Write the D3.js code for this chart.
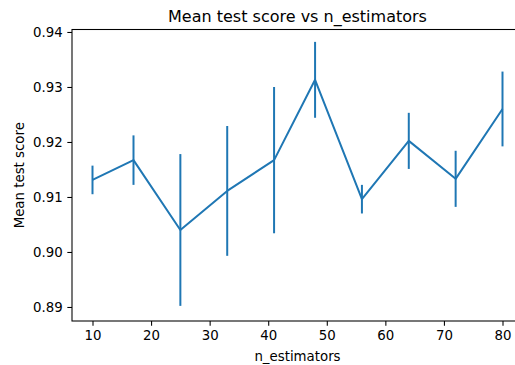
<!DOCTYPE html>
<html>
<head>
<meta charset="utf-8">
<script src="https://cdn.jsdelivr.net/npm/d3@7"></script>
<style>
  body { margin: 0; background: #fff; }
  svg { display: block; font-family: "DejaVu Sans", sans-serif; }
</style>
</head>
<body>
<div id="chart"></div>
<script>
const nEstimators = [10, 17, 25, 33, 41, 48, 56, 64, 72, 80];
const meanScores = [0.9131, 0.9167, 0.904, 0.9111, 0.9167, 0.9313, 0.9096, 0.9202, 0.9133, 0.926];
const stdScores = [0.0026, 0.0045, 0.0138, 0.0118, 0.0133, 0.0069, 0.0026, 0.0051, 0.0051, 0.0068];
const xTicks = [10, 20, 30, 40, 50, 60, 70, 80];
const yTicks = [0.89, 0.9, 0.91, 0.92, 0.93, 0.94];

const width = 515;
const height = 365;
const plot = { left: 72, right: 523, top: 29.5, bottom: 321 };
const lineColor = "#1f77b4";

const data = nEstimators.map((n, i) => ({
  n: n,
  mean: meanScores[i],
  std: stdScores[i],
}));

const svg = d3
  .select("#chart")
  .append("svg")
  .attr("width", width)
  .attr("height", height);

const xScale = d3.scaleLinear().domain([6.5, 83.5]).range([plot.left, plot.right]);
const yScale = d3.scaleLinear().domain([0.88745, 0.94045]).range([plot.bottom, plot.top]);

// error bars
svg
  .append("g")
  .selectAll("line")
  .data(data)
  .join("line")
  .attr("x1", (d) => xScale(d.n))
  .attr("x2", (d) => xScale(d.n))
  .attr("y1", (d) => yScale(d.mean - d.std))
  .attr("y2", (d) => yScale(d.mean + d.std))
  .attr("stroke", lineColor)
  .attr("stroke-width", 2);

const line = d3
  .line()
  .x((d) => xScale(d.n))
  .y((d) => yScale(d.mean));

svg
  .append("path")
  .datum(data)
  .attr("fill", "none")
  .attr("stroke", lineColor)
  .attr("stroke-width", 2)
  .attr("stroke-linejoin", "round")
  .attr("d", line);

// axes
const xAxis = d3
  .axisBottom(xScale)
  .tickValues(xTicks)
  .tickSize(4.67)
  .tickPadding(4.67)
  .tickFormat(d3.format("d"));

const yAxis = d3
  .axisLeft(yScale)
  .tickValues(yTicks)
  .tickSize(4.67)
  .tickPadding(4.67)
  .tickFormat(d3.format(".2f"));

const styleAxis = (g) => {
  g.select(".domain").remove();
  g.selectAll(".tick line").attr("stroke", "#000").attr("stroke-width", 1.07);
  g.selectAll(".tick text")
    .attr("fill", "#000")
    .style("font-family", "DejaVu Sans")
    .style("font-size", "13.33px");
};

svg
  .append("g")
  .attr("transform", `translate(0, ${plot.bottom})`)
  .call(xAxis)
  .call(styleAxis);

svg
  .append("g")
  .attr("transform", `translate(${plot.left}, 0)`)
  .call(yAxis)
  .call(styleAxis);

// frame
svg
  .append("rect")
  .attr("x", plot.left)
  .attr("y", plot.top)
  .attr("width", plot.right - plot.left)
  .attr("height", plot.bottom - plot.top)
  .attr("fill", "none")
  .attr("stroke", "#000")
  .attr("stroke-width", 1.07);

// labels
svg
  .append("text")
  .attr("x", (plot.left + plot.right) / 2)
  .attr("y", 21.5)
  .attr("text-anchor", "middle")
  .style("font-size", "16px")
  .text("Mean test score vs n_estimators");

svg
  .append("text")
  .attr("x", (plot.left + plot.right) / 2)
  .attr("y", 360.5)
  .attr("text-anchor", "middle")
  .style("font-size", "13.33px")
  .text("n_estimators");

svg
  .append("text")
  .attr("transform", `translate(23.5, ${(plot.top + plot.bottom) / 2}) rotate(-90)`)
  .attr("text-anchor", "middle")
  .style("font-size", "13.33px")
  .text("Mean test score");
</script>
</body>
</html>
